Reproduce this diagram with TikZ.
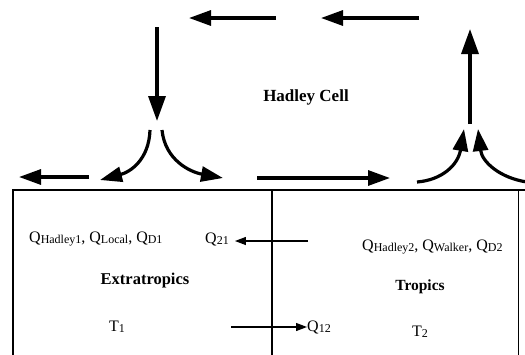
\documentclass[tikz,border=0pt]{standalone}
\usepackage{fontspec}
\setmainfont{Liberation Serif}
\usetikzlibrary{arrows.meta}
\newcommand{\sub}[1]{\raisebox{-1.5pt}{\fontsize{12}{13}\selectfont #1}}
\tikzset{
  bigarrow/.style={line width=3.2pt,-{Triangle[length=22pt,width=15pt]}},
  vertarrow/.style={line width=3.4pt,-{Triangle[length=25pt,width=17pt]}},
  smallarrow/.style={line width=1.2pt,-{Triangle[length=11pt,width=8pt]}},
  qlabel/.style={font=\fontsize{16}{18}\selectfont,inner sep=0pt},
  region/.style={font=\bfseries\fontsize{16.5}{18}\selectfont,inner sep=0pt},
  boxline/.style={line width=1.5pt}
}
\begin{document}
\begin{tikzpicture}[x=1pt,y=-1pt]
\useasboundingbox (0,0) rectangle (525,354);
% box
\coordinate (bl) at (13,360);
\coordinate (tl) at (13,190);
\coordinate (tr) at (525,190);
\coordinate (br) at (518,360);
\coordinate (mt) at (272,190);
\coordinate (mb) at (272,360);
\draw[boxline] (bl) -- (tl) -- (tr);
\draw[line width=1pt] (518,190) -- (br);
\draw[line width=2pt] (mt) -- (mb);
% top arrows
\coordinate (a1s) at (276,18); \coordinate (a1e) at (189,18);
\coordinate (a2s) at (419,18); \coordinate (a2e) at (321,18);
\draw[bigarrow] (a1s) -- (a1e);
\draw[bigarrow] (a2s) -- (a2e);
% down arrow
\coordinate (ds) at (157,27); \coordinate (de) at (157,121);
\draw[vertarrow] (ds) -- (de);
% up arrow
\coordinate (us) at (470,124); \coordinate (ue) at (470,29);
\draw[vertarrow] (us) -- (ue);
% Hadley Cell
\node[region,font=\bfseries\fontsize{17}{19}\selectfont] (hc) at (306,97) {Hadley Cell};
% splitting curves
\coordinate (c1s) at (150,130); \coordinate (c1e) at (100,180);
\coordinate (c2s) at (162,130); \coordinate (c2e) at (223,178);
\draw[bigarrow] (c1s) .. controls (149,160) and (130,172) .. (c1e);
\draw[bigarrow] (c2s) .. controls (165,160) and (190,172) .. (c2e);
% surface arrows
\coordinate (l1s) at (89,177); \coordinate (l1e) at (19,177);
\draw[bigarrow] (l1s) -- (l1e);
\coordinate (r1s) at (257,178); \coordinate (r1e) at (390,178);
\draw[bigarrow] (r1s) -- (r1e);
% converging curves
\coordinate (k1s) at (417,182); \coordinate (k1e) at (464,129);
\coordinate (k2s) at (527,182); \coordinate (k2e) at (478,129);
\draw[bigarrow] (k1s) .. controls (442,180) and (458,165) .. (k1e);
\draw[bigarrow] (k2s) .. controls (500,178) and (482,162) .. (k2e);
% labels in box
\node[qlabel,anchor=west] (q1) at (29,239) {Q\sub{Hadley1}, Q\sub{Local}, Q\sub{D1}};
\node[qlabel,anchor=west] (q21) at (205,239) {Q\sub{21}};
\coordinate (q21s) at (308,241);
\draw[smallarrow] (q21s) -- ([xshift=6pt]q21.east |- q21s);
\node[qlabel,anchor=west] (q2) at (362,247) {Q\sub{Hadley2}, Q\sub{Walker}, Q\sub{D2}};
\node[region] (ex) at (145,281) {Extratropics};
\node[region,font=\bfseries\fontsize{15.5}{17}\selectfont] (tr2) at (420,287) {Tropics};
\node[qlabel] (t1) at (117,327) {T\sub{1}};
\node[qlabel] (t2) at (420,332) {T\sub{2}};
\node[qlabel,anchor=west] (q12) at (307,327) {Q\sub{12}};
\coordinate (q12s) at (231,327);
\draw[smallarrow] (q12s) -- (q12.west |- q12s);
\end{tikzpicture}
\end{document}
